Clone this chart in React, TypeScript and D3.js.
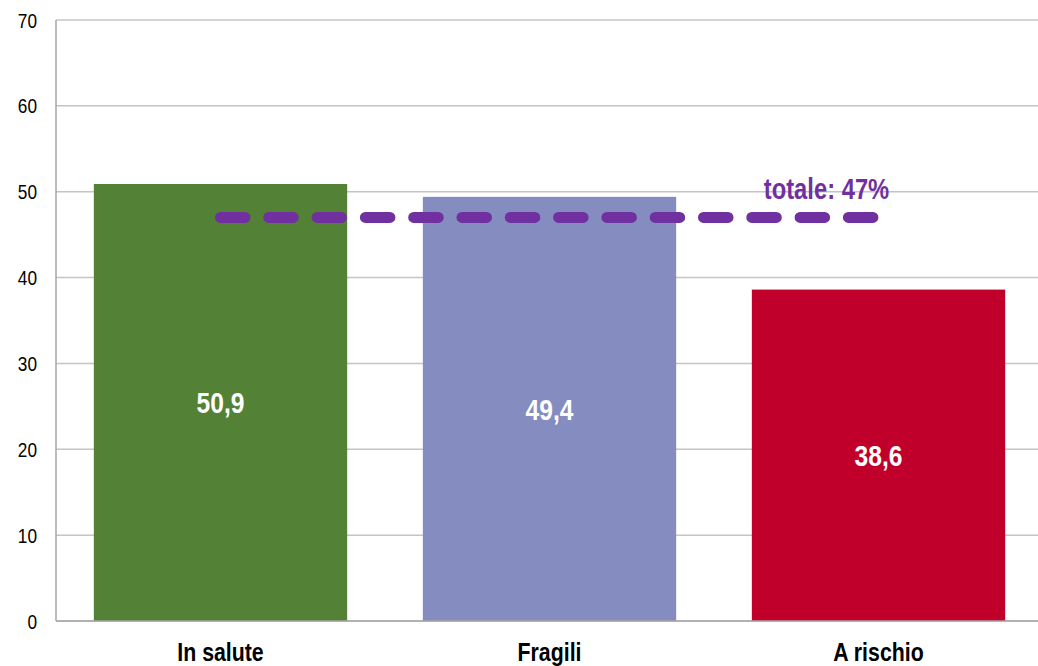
import { useMemo } from 'react';
import * as d3 from 'd3';

const WIDTH = 1038;
const HEIGHT = 666;
const MARGIN = { top: 20, right: -5, bottom: 45, left: 56 };

// Arial Narrow look: Liberation Sans squeezed horizontally
const FONT = '"Liberation Sans", Arial, sans-serif';
const NARROW = 0.82;

// data
const categories = ['In salute', 'Fragili', 'A rischio'];
const values = [50.9, 49.4, 38.6];
const barColors = ['#538135', '#848CC0', '#C0002A'];
const yTicks = [0, 10, 20, 30, 40, 50, 60, 70];
const totale = 47;
const totaleLabel = 'totale: 47%';

const color = {
  grid: '#c4c4c4',
  axis: '#a6a6a6',
  purple: '#7030A0',
};

type NarrowTextProps = {
  x: number;
  y: number;
  size: number;
  fill: string;
  bold?: boolean;
  anchor?: 'start' | 'middle' | 'end';
  dy?: string;
  children: string;
};

const NarrowText = ({ x, y, size, fill, bold, anchor = 'middle', dy, children }: NarrowTextProps) => (
  <g transform={`translate(${x},${y}) scale(${NARROW},1)`}>
    <text
      textAnchor={anchor}
      dy={dy}
      fontFamily={FONT}
      fontWeight={bold ? 'bold' : 'normal'}
      fontSize={size}
      fill={fill}
    >
      {children}
    </text>
  </g>
);

const App = () => {
  const boundsWidth = WIDTH - MARGIN.left - MARGIN.right;
  const boundsHeight = HEIGHT - MARGIN.top - MARGIN.bottom;

  const xScale = useMemo(
    () => d3.scaleBand<string>().domain(categories).range([0, boundsWidth]).paddingInner(0.23).paddingOuter(0.115),
    [boundsWidth],
  );
  const yScale = useMemo(() => d3.scaleLinear().domain([0, 70]).range([boundsHeight, 0]), [boundsHeight]);

  const bw = xScale.bandwidth();
  const firstCx = (xScale(categories[0]) || 0) + bw / 2;
  const lastCx = (xScale(categories[categories.length - 1]) || 0) + bw / 2;

  const totaleLine = d3.line<number>()([
    [firstCx, yScale(totale)],
    [lastCx, yScale(totale)],
  ]);

  return (
    <svg width={WIDTH} height={HEIGHT} style={{ position: 'absolute', left: 0, top: 0, background: '#fff' }}>
      <g transform={`translate(${MARGIN.left},${MARGIN.top})`}>
        {/* gridlines */}
        {yTicks.map(t => (
          <line key={t} x1={0} x2={boundsWidth + 20} y1={yScale(t)} y2={yScale(t)} stroke={color.grid} strokeWidth={1.5} />
        ))}
        {/* y tick labels */}
        {yTicks.map(t => (
          <NarrowText key={'l' + t} x={-19} y={yScale(t)} dy="0.36em" anchor="end" size={21} fill="#000">
            {String(t)}
          </NarrowText>
        ))}

        {/* bars */}
        {categories.map((c, i) => (
          <rect
            key={c}
            x={xScale(c)}
            y={yScale(values[i])}
            width={bw}
            height={yScale(0) - yScale(values[i])}
            fill={barColors[i]}
          />
        ))}

        {/* value labels */}
        {categories.map((c, i) => (
          <NarrowText
            key={'v' + c}
            x={(xScale(c) || 0) + bw / 2}
            y={(yScale(values[i]) + yScale(0)) / 2}
            dy="0.36em"
            size={30}
            bold
            fill="#fff"
          >
            {values[i].toFixed(1).replace('.', ',')}
          </NarrowText>
        ))}

        {/* category labels */}
        {categories.map(c => (
          <NarrowText key={'c' + c} x={(xScale(c) || 0) + bw / 2} y={boundsHeight + 40} size={26} bold fill="#000">
            {c}
          </NarrowText>
        ))}

        {/* axis lines */}
        <line x1={0} x2={0} y1={0} y2={boundsHeight} stroke={color.axis} strokeWidth={1.5} />
        <line x1={0} x2={boundsWidth + 20} y1={boundsHeight} y2={boundsHeight} stroke={color.axis} strokeWidth={1.5} />

        {/* totale line */}
        <path
          d={totaleLine || ''}
          stroke={color.purple}
          strokeWidth={11}
          strokeLinecap="round"
          strokeDasharray="24.5 23.8"
          fill="none"
        />
        <NarrowText x={lastCx - 52} y={yScale(totale) - 18} size={29} bold fill={color.purple}>
          {totaleLabel}
        </NarrowText>
      </g>
    </svg>
  );
};

export default App;
